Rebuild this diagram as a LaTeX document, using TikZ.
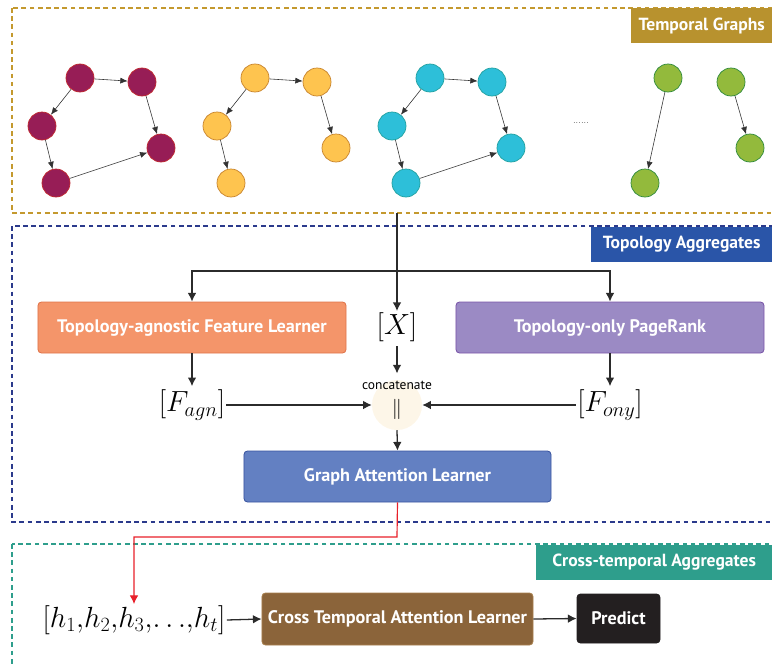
\documentclass[tikz,border=0pt]{standalone}
\usepackage{fontspec}
\setsansfont{PT Sans}
\usepackage{tikz}
\usetikzlibrary{arrows.meta}

\definecolor{berry}{HTML}{971D56}
\definecolor{berryline}{HTML}{C0282E}
\definecolor{amber}{HTML}{FEC44F}
\definecolor{amberline}{HTML}{C8842E}
\definecolor{aqua}{HTML}{2DBFD9}
\definecolor{aqualine}{HTML}{22A0A0}
\definecolor{lime}{HTML}{93BA3C}
\definecolor{limeline}{HTML}{2E8A3C}
\definecolor{edgegray}{HTML}{333333}
\definecolor{flowgray}{HTML}{2B2B2B}
\definecolor{goldline}{HTML}{C4992E}
\definecolor{goldtag}{HTML}{B8922E}
\definecolor{navyline}{HTML}{2B3A8C}
\definecolor{navytag}{HTML}{2A55A8}
\definecolor{tealline}{HTML}{2E9E8C}
\definecolor{tealtag}{HTML}{2E9E8C}
\definecolor{agnfill}{HTML}{F4956A}
\definecolor{agnline}{HTML}{E0744A}
\definecolor{onyfill}{HTML}{9B8AC4}
\definecolor{onyline}{HTML}{7A55A8}
\definecolor{galfill}{HTML}{6380C2}
\definecolor{galline}{HTML}{3A55A0}
\definecolor{ctalfill}{HTML}{8B643A}
\definecolor{ctalline}{HTML}{A8804E}
\definecolor{predfill}{HTML}{231F20}
\definecolor{catfill}{HTML}{FDF6E8}
\definecolor{redline}{HTML}{E8202A}

\begin{document}
\begin{tikzpicture}[x=0.03cm, y=-0.03cm,
  gnode/.style={circle, minimum size=0.84cm, inner sep=0pt, line width=0.6pt},
  gedge/.style={draw=edgegray, line width=0.5pt, -{Latex[length=2.2mm,width=1.8mm]}},
  flow/.style={draw=flowgray, line width=1.1pt, -{Latex[length=2.6mm,width=2.6mm]}},
  redflow/.style={draw=redline, line width=1pt, -{Latex[length=2.6mm,width=2.6mm]}},
  block/.style={rounded corners=3pt, line width=0.7pt, text=white, minimum height=1.53cm,
    font={\sffamily\bfseries\fontsize{15.5}{18}\selectfont}},
  stagetag/.style={text=white, inner sep=0pt, minimum height=1.04cm,
    font={\sffamily\bfseries\fontsize{15}{18}\selectfont}},
  stageframe/.style={line width=1.2pt, dash pattern=on 4pt off 3pt},
  mathlbl/.style={font={\fontsize{26}{30}\selectfont}, inner sep=1pt}]
\useasboundingbox (0,0) rectangle (772,666);

% stage frames
\draw[stageframe, draw=goldline] (12,8) rectangle (790,213);
\draw[stageframe, draw=navyline] (12,226) rectangle (790,522);
\draw[stageframe, draw=tealline] (12,544) rectangle (790,690);
\node[stagetag, fill=goldtag, anchor=north west, minimum width=4.23cm] (tgtag) at (631,8) {Temporal Graphs};
\node[stagetag, fill=navytag, anchor=north west, minimum width=5.43cm] (tatag) at (591,227) {Topology Aggregates};
\node[stagetag, fill=tealtag, anchor=north west, minimum width=7.08cm] (cttag) at (536,545) {Cross-temporal Aggregates};

% temporal graphs
\node[gnode, fill=berry, draw=berryline] (a1) at (80,78) {};
\node[gnode, fill=berry, draw=berryline] (b1) at (142,82) {};
\node[gnode, fill=berry, draw=berryline] (c1) at (42,126) {};
\node[gnode, fill=berry, draw=berryline] (d1) at (161,148) {};
\node[gnode, fill=berry, draw=berryline] (e1) at (56,183) {};
\draw[gedge] (a1) -- (b1);
\draw[gedge] (a1) -- (c1);
\draw[gedge] (b1) -- (d1);
\draw[gedge] (c1) -- (e1);
\draw[gedge] (e1) -- (d1);

\node[gnode, fill=amber, draw=amberline] (a2) at (255,78) {};
\node[gnode, fill=amber, draw=amberline] (b2) at (317,82) {};
\node[gnode, fill=amber, draw=amberline] (c2) at (217,126) {};
\node[gnode, fill=amber, draw=amberline] (d2) at (336,148) {};
\node[gnode, fill=amber, draw=amberline] (e2) at (231,183) {};
\draw[gedge] (a2) -- (b2);
\draw[gedge] (a2) -- (c2);
\draw[gedge] (b2) -- (d2);
\draw[gedge] (c2) -- (e2);

\node[gnode, fill=aqua, draw=aqualine] (a3) at (430,78) {};
\node[gnode, fill=aqua, draw=aqualine] (b3) at (492,82) {};
\node[gnode, fill=aqua, draw=aqualine] (c3) at (392,126) {};
\node[gnode, fill=aqua, draw=aqualine] (d3) at (511,148) {};
\node[gnode, fill=aqua, draw=aqualine] (e3) at (406,183) {};
\draw[gedge] (a3) -- (b3);
\draw[gedge] (a3) -- (c3);
\draw[gedge] (b3) -- (d3);
\draw[gedge] (c3) -- (e3);
\draw[gedge] (e3) -- (d3);

\node[font=\scriptsize] (dots) at (581,123) {......};

\node[gnode, fill=lime, draw=limeline] (a4) at (668,78) {};
\node[gnode, fill=lime, draw=limeline] (b4) at (731,82) {};
\node[gnode, fill=lime, draw=limeline] (d4) at (750,148) {};
\node[gnode, fill=lime, draw=limeline] (e4) at (645,183) {};
\draw[gedge] (a4) -- (e4);
\draw[gedge] (b4) -- (d4);

% topology aggregates
\coordinate (tgout) at (397,213);
\coordinate (split) at (397,271);
\node[mathlbl] (X) at (397,327) {$[X]$};
\node[block, fill=agnfill, draw=agnline, minimum width=9.24cm] (agn) at (192,327.5) {Topology-agnostic Feature Learner};
\node[block, fill=onyfill, draw=onyline, minimum width=9.24cm] (ony) at (610,327.5) {Topology-only PageRank};
\node[mathlbl] (Fagn) at (192,405) {$[F_{agn}]$};
\node[mathlbl] (Fony) at (610,405) {$[F_{ony}]$};
\node[circle, fill=catfill, minimum size=1.5cm, inner sep=0pt] (cat) at (397,405) {};
\node[font={\fontsize{16}{18}\selectfont}, inner sep=0pt] (catbar) at (397,409) {$\|$};
\node[font={\sffamily\fontsize{11.5}{13}\selectfont}, inner sep=0pt] (cattxt) at (397,385) {concatenate};
\node[block, fill=galfill, draw=galline, minimum width=9.21cm] (gal) at (397.5,476.5) {Graph Attention Learner};

\draw[flow] (tgout) -- (X.north);
\draw[flow] (split) -| (agn.north);
\draw[flow] (split) -| (ony.north);
\draw[flow, shorten <=3pt, shorten >=6pt] (X.south) -- (cattxt.north);
\draw[flow, shorten >=2pt] (agn.south) -- (Fagn.north);
\draw[flow, shorten >=2pt] (ony.south) -- (Fony.north);
\draw[flow] (Fagn.east) -- (cat.west);
\draw[flow] (Fony.west) -- (cat.east);
\draw[flow] (cat.south) -- (gal.north);

% cross-temporal aggregates
\coordinate (redturn) at (397,537);
\node[mathlbl] (hseq) at (134,620) {$[h_1{,}h_2{,}h_3{,}{\ldots}{,}h_t]$};
\node[block, fill=ctalfill, draw=ctalline, minimum width=8.13cm, minimum height=1.56cm] (ctal) at (397.5,619) {Cross Temporal Attention Learner};
\node[block, fill=predfill, draw=predfill, minimum width=2.49cm, minimum height=1.47cm] (pred) at (618.5,618.5) {Predict};
\draw[redflow] (gal.south) -- (redturn) -| (hseq.north);
\draw[flow] (hseq.east) -- (ctal.west);
\draw[flow] (ctal.east) -- (pred.west);

\end{tikzpicture}
\end{document}
